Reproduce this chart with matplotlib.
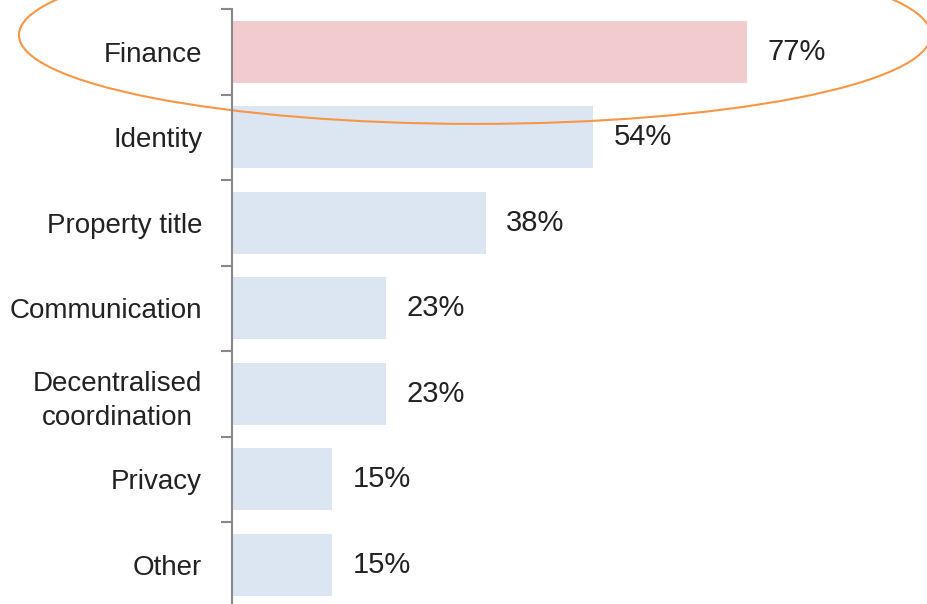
import numpy as np
import matplotlib.pyplot as plt
from matplotlib.patches import Ellipse

categories = ["Finance", "Identity", "Property title", "Communication",
              "Decentralised\ncoordination", "Privacy", "Other"]
shares = [77, 54, 38, 23, 23, 15, 15]
highlight = "Finance"

plt.rcParams['font.family'] = ['Liberation Sans', 'DejaVu Sans']

fig = plt.figure(figsize=(9.28, 6.04), dpi=100)
ax = fig.add_axes([0.25, -0.0058, 0.7209, 0.9909])

y = np.arange(len(categories))
colors = ['#f2cbce' if c == highlight else '#dce6f2' for c in categories]
ax.barh(y, shares, height=0.72, color=colors, edgecolor='none')

for yi, v in zip(y, shares):
    ax.annotate(f"{v}%", (v, yi), xytext=(14.5, 0), textcoords='offset points',
                va='center', ha='left', fontsize=21, color='#222222')

ax.set_xlim(0, 100)
ax.set_ylim(len(categories) - 0.5, -0.5)

# category labels sit between the boundary ticks
ax.set_yticks(y)
ax.set_yticklabels(categories, fontsize=20, color='#222222')
for lab in ax.get_yticklabels():
    lab.set_multialignment('center')
    lab.set_linespacing(1.4)
ax.tick_params(axis='y', which='major', length=0, pad=21.5)
ax.set_yticks(np.arange(-0.5, len(categories), 1), minor=True)
ax.tick_params(axis='y', which='minor', length=8, width=1.5, color='#888888')

ax.set_xticks([])
for side in ['top', 'right', 'bottom']:
    ax.spines[side].set_visible(False)
ax.spines['left'].set_color('#888888')
ax.spines['left'].set_linewidth(1.5)

# ring around the highlighted row
row = categories.index(highlight)
ring = Ellipse((36.3, row - 0.196), width=136.3, height=2.08,
               fill=False, edgecolor='#f79646', linewidth=1.5, clip_on=False)
ax.add_patch(ring)

fig.savefig("out.png", dpi=100)
